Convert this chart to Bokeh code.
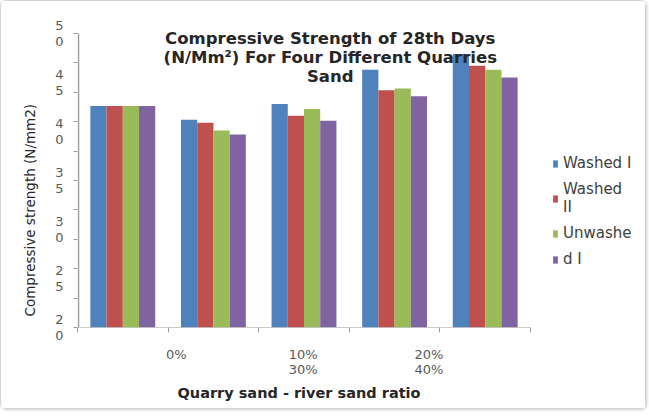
import numpy as np
from bokeh.plotting import figure
from bokeh.models import (Range1d, FixedTicker, Label, Legend, LegendItem, ColumnDataSource, Title)
from bokeh.embed import file_html
from bokeh.resources import INLINE

# ---- data ----
groups = ["G1", "G2", "G3", "G4", "G5"]
series_names = ["Washed I", "Washed II", "Unwashed I", "Unwashed II"]
legend_labels = ["Washed I", "Washed\nII", "Unwashe", "d I"]
washed_1 = [42.6, 41.2, 42.8, 46.3, 47.9]
washed_2 = [42.6, 40.9, 41.6, 44.2, 46.7]
unwashed_1 = [42.6, 40.1, 42.3, 44.4, 46.3]
unwashed_2 = [42.6, 39.7, 41.1, 43.6, 45.5]
colors = ["#4F81BD", "#C0504D", "#9BBB59", "#8064A2"]

x_tick_pos = [1.09, 2.49, 3.88]
x_tick_labels = ["0%", "10%\n30%", "20%\n40%"]
y_min, y_max = 20, 50
y_label_values = [20, 25, 30, 35, 40, 45, 50]
y_tick_marks = [20, 23, 26, 29, 32, 35, 38, 41, 44, 47, 50]

FONT = "DejaVu Sans"
GREY = "#595959"
DARK = "#262626"
AXIS = "#9a9a9a"

W, H = 646, 409
LEFT, TOP, BOTTOM = 76, 18, 83
PLOT_W = 453          # width of the bar area in px
PLOT_H = 294          # height of the value area (20..50) in px
FRAME_W = W - LEFT    # frame extends under the legend
FRAME_H = H - TOP - BOTTOM
n = len(groups)
x_end = n * FRAME_W / PLOT_W
y_end = y_min + (y_max - y_min) * FRAME_H / PLOT_H
one_px = n / PLOT_W

p = figure(width=W, height=H, output_backend="svg", toolbar_location=None,
           x_range=Range1d(0, x_end), y_range=Range1d(y_min, y_end),
           min_border_left=LEFT, min_border_right=0, min_border_top=TOP, min_border_bottom=BOTTOM)
p.outline_line_color = None
p.grid.visible = False
p.background_fill_color = "white"
p.styles = {"border": "1px solid #d4d4d4", "border-radius": "6px",
            "box-shadow": "1px 1px 3px #cccccc"}

centers = np.arange(n) + 0.5
bw = 0.179
all_series = [washed_1, washed_2, unwashed_1, unwashed_2]
renderers = []
for i, (vals, c) in enumerate(zip(all_series, colors)):
    src = ColumnDataSource(dict(x=centers + (i - 1.5) * bw, top=vals))
    r = p.vbar(x="x", top="top", bottom=y_min, width=bw, source=src,
               fill_color=c, line_color=None)
    renderers.append(r)

# axis lines only along the value / category area
p.segment(x0=[0], x1=[n], y0=[y_min], y1=[y_min], line_color=AXIS, line_width=1.2)
p.segment(x0=[one_px], x1=[one_px], y0=[y_min], y1=[y_max], line_color=AXIS, line_width=1.5)

xa = p.xaxis[0]
xa.ticker = FixedTicker(ticks=x_tick_pos, minor_ticks=list(range(n + 1)))
xa.major_label_overrides = {t: l for t, l in zip(x_tick_pos, x_tick_labels)}
xa.axis_line_color = None
xa.major_tick_out = 0
xa.major_tick_in = 0
xa.minor_tick_out = 5
xa.minor_tick_in = 0
xa.minor_tick_line_color = AXIS
xa.major_label_standoff = 14
xa.major_label_text_font = FONT
xa.major_label_text_font_size = "13px"
xa.major_label_text_color = GREY
xa.major_label_text_line_height = 1.0

# y axis
ya = p.yaxis[0]
ya.ticker = FixedTicker(ticks=y_label_values, minor_ticks=y_tick_marks)
ya.major_label_overrides = {v: "\n".join(str(v)) for v in y_label_values}
ya.axis_line_color = None
ya.major_tick_out = 0
ya.major_tick_in = 0
ya.minor_tick_out = 4
ya.minor_tick_in = 0
ya.minor_tick_line_color = AXIS
ya.major_label_standoff = 10
ya.major_label_text_font = FONT
ya.major_label_text_font_size = "13px"
ya.major_label_text_color = GREY
ya.major_label_text_line_height = 1.05

# axis titles
p.add_layout(Title(text="Compressive strength (N/mm2)", align="left", offset=11,
                   text_font=FONT, text_font_style="normal", text_font_size="13.5px",
                   text_color=DARK, standoff=29), "left")
p.add_layout(Title(text="Quarry sand - river sand ratio", align="left", offset=100,
                   text_font=FONT, text_font_style="bold", text_font_size="14.5px",
                   text_color=DARK, standoff=6), "below")

# chart title
p.add_layout(Label(x=2.79, y=50.45, text="Compressive Strength of 28th Days\n(N/Mm\u00b2) For Four Different Quarries\nSand",
                   text_align="center", text_baseline="top", text_font=FONT,
                   text_font_style="bold", text_font_size="16.5px", text_color=DARK,
                   text_line_height=1.0))

legend = Legend(items=[LegendItem(label=l, renderers=[r]) for l, r in zip(legend_labels, renderers)],
                location=(475, 59), orientation="vertical")
legend.border_line_color = None
legend.background_fill_alpha = 0
legend.padding = 0
legend.margin = 0
legend.spacing = 8
legend.glyph_width = 6
legend.glyph_height = 9
legend.label_standoff = 5
legend.label_text_font = FONT
legend.label_text_font_size = "15px"
legend.label_text_color = "#404040"
p.add_layout(legend)

open("out.html", "w").write(file_html(p, INLINE))
